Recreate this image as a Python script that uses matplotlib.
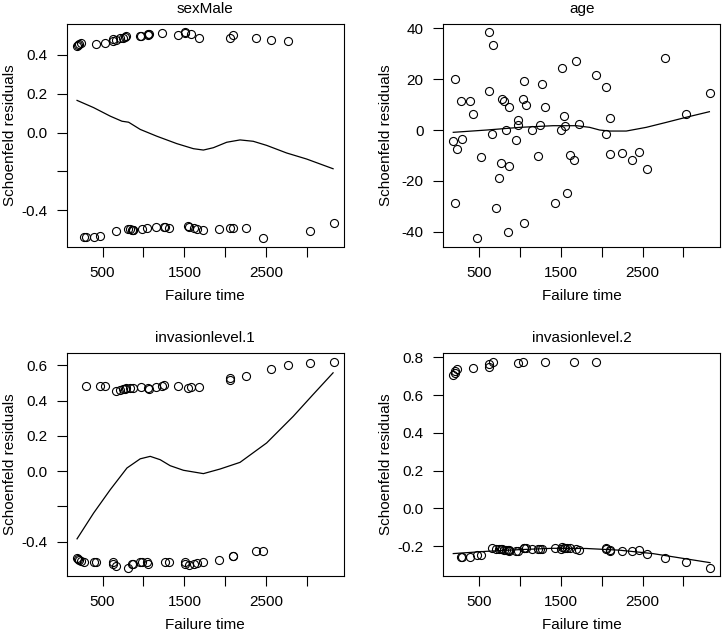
import matplotlib as mpl
mpl.use('Agg')
import matplotlib.pyplot as plt
import numpy as np

#---------setting font start-----------------
mpl.rcParams['font.family'] = ['Liberation Sans', 'DejaVu Sans']
mpl.rcParams['font.size'] = 11

# failure times shared by all four panels
time = [187, 203, 207, 236, 276, 293, 390, 423, 472, 528,
        622, 626, 659, 667, 715, 748, 776, 785, 809, 833,
        854, 866, 870, 959, 972, 980, 1041, 1053, 1057, 1073,
        1154, 1224, 1252, 1268, 1309, 1427, 1504, 1512, 1545, 1557,
        1581, 1618, 1659, 1683, 1724, 1927, 2057, 2057, 2098, 2098,
        2248, 2374, 2455, 2557, 2772, 3032, 3325]

# scaled Schoenfeld residuals (one per failure time)
res_sex = [0.446, 0.451, 0.456, 0.460, -0.534, -0.534, -0.536, 0.456, -0.532, 0.460,
           0.469, 0.478, 0.474, -0.508, 0.486, 0.486, 0.491, 0.494, -0.494, -0.498,
           -0.503, -0.500, -0.503, 0.494, 0.498, -0.498, -0.491, 0.503, 0.506, 0.506,
           -0.484, 0.512, -0.484, -0.486, -0.489, 0.503, 0.515, 0.512, -0.481, -0.484,
           0.508, -0.491, -0.498, 0.484, -0.501, -0.494, 0.486, -0.491, 0.503, -0.489,
           -0.489, 0.484, -0.543, 0.477, 0.469, -0.506, -0.463]

res_age = [-4.5, -28.5, 20.1, -7.6, 11.5, -3.5, 11.5, 6.4, -42.5, -10.5,
           15.2, 38.4, -1.7, 33.2, -30.7, -18.8, -13.0, 12.2, 11.3, 0.1,
           -39.9, -14.0, 8.9, -4.1, 2.0, 3.9, 12.2, 19.1, -36.7, 9.8,
           0.1, -10.1, 2.0, 18.0, 9.2, -28.7, 0.0, 24.4, 5.4, 1.5,
           -24.7, -9.8, -11.9, 27.0, 2.2, 21.6, 17.0, -1.6, 4.6, -9.6,
           -9.2, -11.8, -8.8, -15.2, 28.2, 6.3, 14.6]

res_inv1 = [-0.490, -0.499, -0.505, -0.509, -0.514, 0.484, -0.514, -0.514, 0.484, 0.484,
            -0.518, -0.527, 0.456, -0.537, 0.459, 0.465, 0.469, 0.471, -0.547, 0.474,
            -0.527, -0.524, 0.474, -0.514, 0.478, -0.518, -0.518, -0.527, 0.471, 0.465,
            0.478, 0.484, 0.488, -0.514, -0.514, 0.484, -0.514, -0.527, 0.474, -0.533,
            0.478, -0.527, -0.522, 0.478, -0.514, -0.503, 0.527, 0.516, -0.480, -0.484,
            0.541, -0.452, -0.452, 0.578, 0.603, 0.611, 0.622]

res_inv2 = [0.705, 0.715, 0.727, 0.738, -0.256, -0.255, -0.257, 0.745, -0.246, -0.246,
            0.751, 0.765, -0.212, 0.778, -0.213, -0.214, -0.215, -0.216, -0.218, -0.219,
            -0.221, -0.222, -0.223, -0.225, -0.226, 0.769, 0.776, -0.207, -0.209, -0.210,
            -0.214, -0.214, -0.215, -0.215, 0.778, -0.212, -0.214, -0.205, -0.207, -0.207,
            -0.209, -0.210, 0.778, -0.214, -0.221, 0.773, -0.212, -0.216, -0.220, -0.227,
            -0.227, -0.225, -0.218, -0.239, -0.260, -0.281, -0.313]

# smoothed curves
smo_sex_t = [188, 390, 594, 737, 818, 960, 1163, 1407, 1610, 1732, 1854, 2017, 2180, 2341, 2505, 2749, 2993, 3317]
smo_sex = [0.165, 0.128, 0.084, 0.058, 0.053, 0.016, -0.019, -0.057, -0.083, -0.090,
           -0.078, -0.050, -0.038, -0.045, -0.066, -0.105, -0.136, -0.186]

smo_age_t = [187, 594, 1000, 1406, 1691, 1854, 1976, 2098, 2301, 2545, 2789, 3033, 3317]
smo_age = [-0.9, 0.0, 1.05, 1.7, 1.7, 1.05, 0.0, -0.4, -0.4, 1.05, 3.0, 5.0, 7.2]

smo_inv1_t = [188, 390, 594, 798, 960, 1082, 1204, 1326, 1488, 1732, 1935, 2180, 2505, 2830, 3073, 3317]
smo_inv1 = [-0.384, -0.238, -0.105, 0.018, 0.070, 0.084, 0.065, 0.031, 0.005, -0.014,
            0.012, 0.050, 0.160, 0.311, 0.435, 0.558]

smo_inv2_t = [187, 593, 1000, 1406, 1813, 2220, 2626, 3033, 3325]
smo_inv2 = [-0.239, -0.227, -0.218, -0.211, -0.212, -0.221, -0.239, -0.267, -0.287]

titles = ['sexMale', 'age', 'invasionlevel.1', 'invasionlevel.2']
xticks = [500, 1000, 1500, 2000, 2500, 3000]
xticklabels = ['500', '', '1500', '', '2500', '']
yticks = [[-0.4, -0.2, 0.0, 0.2, 0.4],
          [-40, -20, 0, 20, 40],
          [-0.4, -0.2, 0.0, 0.2, 0.4, 0.6],
          [-0.2, 0.0, 0.2, 0.4, 0.6, 0.8]]
yticklabels = [['-0.4', '', '0.0', '0.2', '0.4'],
               ['-40', '-20', '0', '20', '40'],
               ['-0.4', '', '0.0', '0.2', '0.4', '0.6'],
               ['-0.2', '0.0', '0.2', '0.4', '0.6', '0.8']]

residuals = [res_sex, res_age, res_inv1, res_inv2]
smooths = [(smo_sex_t, smo_sex), (smo_age_t, smo_age), (smo_inv1_t, smo_inv1), (smo_inv2_t, smo_inv2)]

# panel boxes in pixels (left, top) for a 725x631 figure
W, H = 725.0, 631.0
pw, ph = 277.3, 222.5
boxes = [(66.7, 24.0), (443.0, 24.0), (66.7, 353.3), (443.0, 353.3)]

fig = plt.figure(figsize=(7.25, 6.31), dpi=100)

for i in range(4):
    left, top = boxes[i]
    ax = fig.add_axes([left / W, (H - top - ph) / H, pw / W, ph / H])
    ax.plot(time, residuals[i], 'o', mfc='none', mec='black', ms=5.8, mew=0.8)
    ax.plot(smooths[i][0], smooths[i][1], color='black', lw=0.9)
    ax.margins(0.04)

    ax.set_xticks(xticks)
    ax.set_xticklabels(xticklabels)
    ax.set_yticks(yticks[i])
    ax.set_yticklabels(yticklabels[i])
    ax.tick_params(direction='out', length=7, width=0.8, pad=7, labelsize=11)

    for s in ax.spines.values():
        s.set_linewidth(0.8)

    ax.set_title(titles[i], fontsize=11, pad=8)
    ax.set_xlabel('Failure time', fontsize=11)
    ax.set_ylabel('Schoenfeld residuals', fontsize=11)
    ax.xaxis.set_label_coords(0.5, -0.19)
    ax.yaxis.set_label_coords(-0.18, 0.5)

plt.savefig('out.png', dpi=100)
